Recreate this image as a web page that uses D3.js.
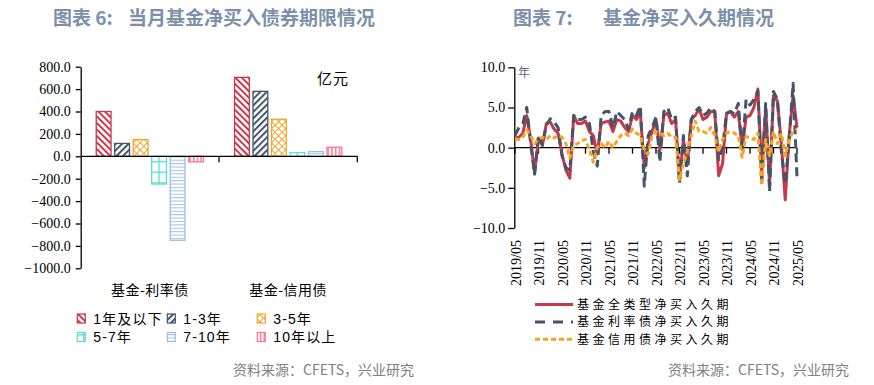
<!DOCTYPE html>
<html>
<head>
<meta charset="utf-8">
<script src="https://cdn.jsdelivr.net/npm/d3@7"></script>
<style>
  body { margin: 0; background: #fff; }
  svg text { font-family: "Liberation Serif", "Noto Sans CJK SC", serif; }
  .cjk { font-family: "Noto Sans CJK SC", sans-serif !important; }
</style>
</head>
<body>
<svg id="chart" width="874" height="385"></svg>
<script>
// ---- left panel: net buying by maturity (亿元)
const groups     = ['基金-利率债', '基金-信用债'];
const buckets    = ['1年及以下', '1-3年', '3-5年', '5-7年', '7-10年', '10年以上'];
const rateBond   = [400, 115, 150, -248, -750, -50];
const creditBond = [705, 580, 331, 33, 42, 81];
const barTicks   = [800, 600, 400, 200, 0, -200, -400, -600, -800, -1000];

// ---- right panel: net bought duration (年), monthly 2019/05 - 2025/05
const durTicks    = [10, 5, 0, -5, -10];
const monthLabels = ['2019/05', '2019/11', '2020/05', '2020/11', '2021/05', '2021/11', '2022/05',
                     '2022/11', '2023/05', '2023/11', '2024/05', '2024/11', '2025/05'];
const lineNames   = ['基金全类型净买入久期', '基金利率债净买入久期', '基金信用债净买入久期'];
const allFund = [1.2, 1.3, 1.8, 4.0, 1.0, -3.2, 1.2, 0.3, 3.0, 3.2, 2.3, 1.8, -0.8, -2.8, -3.8,
                 4.0, 3.0, 3.0, 3.3, 2.0, 1.5, -0.8, 3.0, 3.2, 3.3, 2.0, 3.5, 3.3, 2.5, 2.0,
                 4.0, 3.5, 4.3, -2.5, 0.5, 2.0, 3.5, -0.3, 4.0, 4.3, 3.0, 3.5, -4.0, 1.0, -2.0,
                 3.5, 4.0, 4.8, 3.5, 3.8, 4.5, 4.5, -3.5, -2.0, 4.2, 4.5, 3.8, 4.5, -0.2, 3.8,
                 4.0, 5.0, 7.3, -3.0, 5.0, -4.5, 6.5, 5.8, 0.5, -6.5, 1.5, 6.5, 2.5];
const rateFund = [1.5, 2.5, 3.0, 5.0, 0.5, -3.3, 1.5, 0.3, 2.8, 3.6, 3.2, 2.5, -1.0, -2.5, -2.8,
                  4.0, 3.5, 3.5, 3.8, 3.0, -0.5, -2.3, 4.0, 4.5, 4.5, 2.5, 4.5, 4.0, 3.5, 2.3,
                  4.5, 4.0, 5.2, -4.8, 1.5, 2.5, 3.8, -1.8, 4.5, 5.0, 3.5, 3.8, -4.5, 1.5, -3.5,
                  3.5, 4.5, 5.0, 4.0, 4.3, 5.0, 4.5, -1.5, 0.0, 4.3, 4.5, 4.2, 5.5, -0.5, 6.0,
                  5.3, 6.0, 7.0, -4.5, 5.5, -5.5, 7.0, 6.0, -0.5, -4.5, 1.0, 8.0, -3.7];
const creditFund = [1.1, 1.0, 1.3, 2.2, 1.5, 0.5, 1.0, 1.3, 1.0, 1.5, 1.2, 1.5, 1.3, 0.5, -1.3,
                    0.3, 0.5, 0.9, 1.0, -0.3, -1.8, 0.0, 0.5, 0.0, 0.8, 0.0, 0.8, 1.5, 1.8, 1.5,
                    2.3, 1.8, 1.5, -0.3, -0.8, 1.5, 2.0, 1.8, 1.5, 1.8, 1.3, 1.3, -4.0, -2.0, -0.5,
                    1.5, 3.3, 2.0, 2.0, 1.8, 2.5, 1.5, -0.5, 1.0, 1.8, 2.0, 1.8, 1.5, -1.2, 1.4,
                    1.2, 1.0, 1.8, -4.7, 1.0, -1.0, 2.0, 0.5, 1.8, -1.0, 1.0, 2.0, 2.3];

const barColors  = ['#c8384b', '#44546a', '#f4a426', '#5fdcd4', '#9dbfe3', '#f7778f'];
const lineColors = ['#c8384b', '#44546a', '#f7a421'];
const lineDash   = [null, '9,5', '5,3'];
const titleColor = '#7d90aa';

const svg  = d3.select('#chart');
const defs = svg.append('defs');

// one pattern per drawn shape so grids line up with the shape
function makePattern(id, si, x0, y0, w) {
  const c = barColors[si];
  const p = defs.append('pattern').attr('id', id).attr('patternUnits', 'userSpaceOnUse');
  if (si === 0 || si === 1) {
    p.attr('width', 4.6).attr('height', 4.6)
      .attr('patternTransform', `translate(${x0},${y0}) rotate(${si === 0 ? -45 : 45})`);
    p.append('rect').attr('width', 2).attr('height', 4.6).attr('fill', c);
  } else if (si === 2) {
    p.attr('width', 5).attr('height', 5)
      .attr('patternTransform', `translate(${x0},${y0}) rotate(45)`);
    p.append('path').attr('d', 'M0,0.5H5M0.5,0V5').attr('stroke', c).attr('stroke-width', 1);
  } else if (si === 3) {
    p.attr('x', x0 + w / 2 - 0.75).attr('y', y0 + 4.5).attr('width', 10.7).attr('height', 10.7);
    p.append('path').attr('d', 'M0,0.75H10.7M0.75,0V10.7').attr('stroke', c).attr('stroke-width', 1.5);
  } else if (si === 4) {
    p.attr('x', x0).attr('y', y0).attr('width', 4).attr('height', 3.4);
    p.append('path').attr('d', 'M0,0.6H4').attr('stroke', c).attr('stroke-width', 1);
  } else {
    p.attr('x', x0 + 0.5).attr('y', y0).attr('width', 3.7).attr('height', 4);
    p.append('path').attr('d', 'M0.8,0V4').attr('stroke', c).attr('stroke-width', 1.5);
  }
  return `url(#${id})`;
}

// ================= left chart =================
const yL  = d3.scaleLinear().domain([-1000, 800]).range([268.3, 66.7]);
const xG  = d3.scaleBand().domain(groups).range([80.7, 357.3]);
const xS  = d3.scaleBand().domain(buckets).range([0, xG.bandwidth()]).paddingInner(0.2).paddingOuter(0.84);

const axL = svg.append('g').attr('transform', 'translate(80.7,0)')
  .call(d3.axisLeft(yL).tickValues(barTicks).tickFormat(d3.format('.1f')).tickSize(5).tickSizeOuter(0));
axL.select('.domain').attr('stroke', '#000').attr('stroke-width', 1.3);
axL.selectAll('line').attr('stroke', '#000').attr('stroke-width', 1.3);
axL.selectAll('text').attr('font-size', 14).attr('fill', '#000').attr('x', -10)
  .style('font-family', '"Liberation Serif", serif');

const barData = [];
groups.forEach((g, gi) => {
  const vals = gi === 0 ? rateBond : creditBond;
  buckets.forEach((b, si) => barData.push({ g, gi, b, si, v: vals[si] }));
});

svg.append('g').selectAll('rect').data(barData).enter().append('rect')
  .attr('x', d => xG(d.g) + xS(d.b))
  .attr('y', d => yL(Math.max(0, d.v)))
  .attr('width', xS.bandwidth())
  .attr('height', d => Math.abs(yL(d.v) - yL(0)))
  .attr('fill', d => makePattern(`p${d.gi}_${d.si}`, d.si, xG(d.g) + xS(d.b), yL(0), xS.bandwidth()))
  .attr('stroke', d => barColors[d.si])
  .attr('stroke-width', 1.3);

// category axis on the zero line
const catX = d3.range(groups.length + 1).map(i => xG.range()[0] + i * xG.step());
svg.append('line').attr('x1', catX[0]).attr('x2', catX[catX.length - 1])
  .attr('y1', yL(0)).attr('y2', yL(0)).attr('stroke', '#000').attr('stroke-width', 1.3);
svg.append('g').selectAll('line').data(catX.slice(1)).enter().append('line')
  .attr('x1', d => d).attr('x2', d => d).attr('y1', yL(0)).attr('y2', yL(0) + 6)
  .attr('stroke', '#000').attr('stroke-width', 1.3);

svg.append('g').selectAll('text').data(groups).enter().append('text')
  .attr('class', 'cjk')
  .attr('x', d => xG(d) + xG.bandwidth() / 2).attr('y', 295)
  .attr('text-anchor', 'middle').attr('font-size', 14).attr('letter-spacing', 0.5)
  .text(d => d);

svg.append('text').attr('class', 'cjk').attr('x', 317).attr('y', 84)
  .attr('font-size', 15).attr('letter-spacing', 1).text('亿元');

// left legend
const legL = svg.append('g').selectAll('g').data(buckets).enter().append('g')
  .attr('transform', (d, i) => `translate(${77.3 + (i % 3) * 90},${Math.floor(i / 3) * 18.5})`);
legL.append('rect')
  .attr('x', 0).attr('y', 314).attr('width', 8).attr('height', 9)
  .attr('fill', (d, i) => makePattern(`lg${i}`, i, 77.3 + (i % 3) * 90, 314 + Math.floor(i / 3) * 18.5, 8))
  .attr('stroke', (d, i) => barColors[i]).attr('stroke-width', 1.2);
legL.append('text')
  .attr('x', 16).attr('y', 323.5).attr('font-size', 14).attr('letter-spacing', 1.1)
  .style('font-family', '"Liberation Sans", "Noto Sans CJK SC", sans-serif')
  .text(d => d);

// ================= right chart =================
const yR = d3.scaleLinear().domain([-10, 10]).range([228, 67.3]);
const xR = d3.scaleLinear().domain([0, allFund.length - 1]).range([515, 797]);

const axR = svg.append('g').attr('transform', 'translate(514.3,0)')
  .call(d3.axisLeft(yR).tickValues(durTicks).tickFormat(d3.format('.1f')).tickSize(6).tickSizeOuter(0));
axR.select('.domain').attr('stroke', '#000').attr('stroke-width', 1.3);
axR.selectAll('line').attr('stroke', '#000').attr('stroke-width', 1.3);
axR.selectAll('text').attr('font-size', 14).attr('fill', '#000').attr('x', -9)
  .style('font-family', '"Liberation Serif", serif');

svg.append('text').attr('class', 'cjk').attr('x', 518).attr('y', 77)
  .attr('font-size', 12).attr('fill', '#5a6b85').text('年');

// zero line with half-year ticks
const tickIdx = monthLabels.map((m, k) => k * 6);
svg.append('line').attr('x1', 514.3).attr('x2', xR(allFund.length - 1))
  .attr('y1', yR(0)).attr('y2', yR(0)).attr('stroke', '#000').attr('stroke-width', 1.3);
svg.append('g').selectAll('line').data(tickIdx).enter().append('line')
  .attr('x1', d => xR(d)).attr('x2', d => xR(d)).attr('y1', yR(0)).attr('y2', yR(0) + 6)
  .attr('stroke', '#000').attr('stroke-width', 1.3);

const series = [allFund, rateFund, creditFund];
const line = d3.line().x((d, i) => xR(i)).y(d => yR(d));
svg.append('g').selectAll('path').data(series).enter().append('path')
  .attr('d', line)
  .attr('fill', 'none')
  .attr('stroke', (d, i) => lineColors[i])
  .attr('stroke-width', 3)
  .attr('stroke-linejoin', 'round')
  .attr('stroke-dasharray', (d, i) => lineDash[i]);

svg.append('g').selectAll('text').data(monthLabels).enter().append('text')
  .attr('transform', (d, k) => `translate(${xR(k * 6) + 1},240) rotate(-90)`)
  .attr('text-anchor', 'end').attr('dy', '0.35em').attr('font-size', 14)
  .style('font-family', '"Liberation Serif", serif')
  .text(d => d);

// right legend
const legR = svg.append('g').selectAll('g').data(lineNames).enter().append('g')
  .attr('transform', (d, i) => `translate(0,${304.5 + i * 17.4})`);
legR.append('line').attr('x1', 535).attr('x2', 573).attr('y1', 0).attr('y2', 0)
  .attr('stroke', (d, i) => lineColors[i]).attr('stroke-width', 3)
  .attr('stroke-dasharray', (d, i) => i === 1 ? '10,8' : lineDash[i]);
legR.append('text').attr('class', 'cjk').attr('x', 577).attr('y', 4.3)
  .attr('font-size', 12).attr('letter-spacing', 3.5).text(d => d);

// ================= titles and sources =================
function title(x1, prefix, x2, rest) {
  const t = svg.append('text').attr('class', 'cjk').attr('y', 24.5)
    .attr('font-size', 19).attr('font-weight', 'bold').attr('fill', titleColor);
  t.append('tspan').attr('x', x1).text(prefix);
  t.append('tspan').attr('x', x2).text(rest);
}
title(53, '图表 6:', 128, '当月基金净买入债券期限情况');
title(513, '图表 7:', 603, '基金净买入久期情况');

[233, 668].forEach(x => {
  svg.append('text').attr('class', 'cjk').attr('x', x).attr('y', 375)
    .attr('font-size', 14).attr('fill', '#808080').text('资料来源：CFETS，兴业研究');
});
</script>
</body>
</html>
